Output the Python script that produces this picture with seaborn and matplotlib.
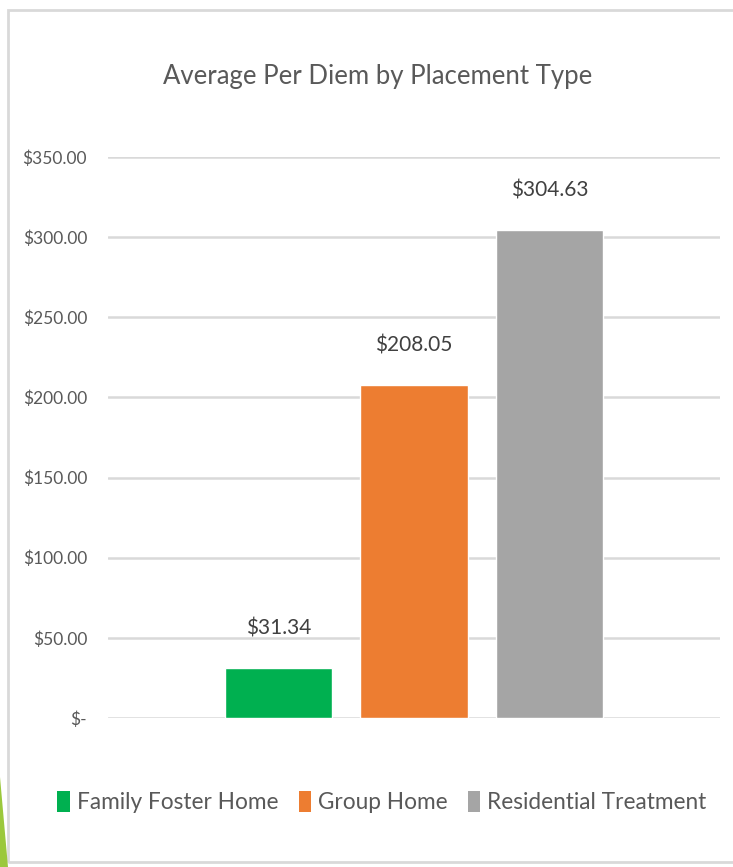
import pandas as pd
import numpy as np
import seaborn as sns
import matplotlib.pyplot as plt
from matplotlib.patches import Rectangle, Polygon, Patch

# DATOS
categorias = ["Family Foster Home", "Group Home", "Residential Treatment"]
valores = [31.34, 208.05, 304.63]
etiquetas = ["$31.34", "$208.05", "$304.63"]
colores = ["#00B050", "#ED7D31", "#A5A5A5"]
ticks_y = [0, 50, 100, 150, 200, 250, 300, 350]
etiquetas_y = ["$-", "$50.00", "$100.00", "$150.00", "$200.00", "$250.00", "$300.00", "$350.00"]

df = pd.DataFrame({"grupo": [""] * 3, "tipo": categorias, "valor": valores})

sns.set_theme(style="white")
plt.rcParams['font.family'] = ['Lato', 'DejaVu Sans']
texto = "#595959"

fig = plt.figure(figsize=(7.33, 8.67), dpi=100)
ax = fig.add_axes([0.1473, 0.1719, 0.835, 0.647])

sns.barplot(data=df, x="grupo", y="valor", hue="tipo", hue_order=categorias,
            palette=colores, width=0.664, gap=0.21, saturation=1,
            legend=False, ax=ax)

# ETIQUETAS DE DATOS
for cont, etiqueta in zip(ax.containers, etiquetas):
    ax.bar_label(cont, labels=[etiqueta], padding=21, fontsize=15, color="#404040")

ax.set_ylim(0, 350)
ax.set_xlim(-0.5, 0.5)
ax.set_yticks(ticks_y)
ax.set_yticklabels(etiquetas_y, fontsize=12.5, color=texto)
ax.tick_params(axis="y", length=0, pad=15)
ax.set_xticks([])
ax.set_xlabel("")
ax.set_ylabel("")
ax.yaxis.grid(True, color="#D9D9D9", linewidth=1.8)
ax.set_axisbelow(True)
for s in ax.spines.values():
    s.set_visible(False)

fig.text(0.515, 0.912, "Average Per Diem by Placement Type", ha="center", va="center",
         fontsize=18.5, color=texto)

# LEYENDA
handles = [Patch(facecolor=c, edgecolor="none") for c in colores]
fig.legend(handles, categorias, loc="center", bbox_to_anchor=(0.521, 0.075), ncol=3,
           frameon=False, fontsize=16.3, labelcolor=texto, handlelength=0.55,
           handleheight=1.1, handletextpad=0.3, columnspacing=0.9)

# MARCO Y DECORACION
fig.patches.append(Rectangle((8 / 733, 5 / 867), 1.0, 1 - 15 / 867, transform=fig.transFigure,
                             fill=False, edgecolor="#D9D9D9", linewidth=2))
fig.patches.append(Polygon([(0, 0), (0, 90 / 867), (8 / 733, 0)], closed=True,
                           transform=fig.transFigure, facecolor="#9BC83C", edgecolor="none"))

fig.savefig("out.png", dpi=100, facecolor="white")
